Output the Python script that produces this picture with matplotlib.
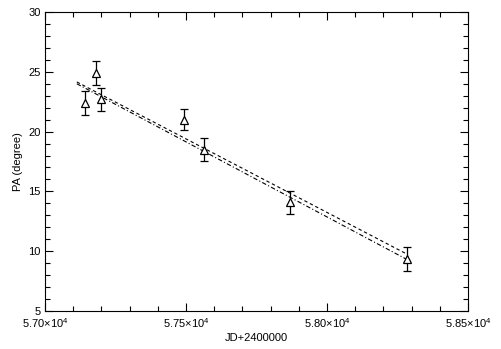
import matplotlib
matplotlib.use('Agg')
import matplotlib.pyplot as plt
from matplotlib.ticker import MultipleLocator, FixedLocator

# Observed position angles
jd = [57142, 57180, 57200, 57494, 57564, 57869, 58285]
pa = [22.4, 24.9, 22.7, 21.0, 18.5, 14.1, 9.35]
pa_err = [1.0, 1.0, 0.95, 0.9, 0.95, 0.95, 1.0]

# Two linear fits (end points)
fit_jd = [57113, 58284]
fit_dashed = [24.15, 9.75]
fit_dashdot = [24.0, 9.3]

xticks = [57000, 57500, 58000, 58500]
xticklabels = [r'5.70$\times$10$^4$', r'5.75$\times$10$^4$',
               r'5.80$\times$10$^4$', r'5.85$\times$10$^4$']

plt.rcParams['font.family'] = 'Liberation Sans'
plt.rcParams['mathtext.fontset'] = 'custom'
plt.rcParams['mathtext.rm'] = 'Liberation Sans'

fig = plt.figure(figsize=(5.02, 3.49), dpi=100)
ax = fig.add_axes([0.0896, 0.1089, 0.8427, 0.8567])

ax.plot(fit_jd, fit_dashed, color='black', linestyle=(0, (3, 2.5)), linewidth=0.8)
ax.plot(fit_jd, fit_dashdot, color='black', linestyle=(0, (4, 2, 1, 2)), linewidth=0.8)
ax.errorbar(jd, pa, yerr=pa_err, fmt='^', markersize=5.5, markerfacecolor='white',
            markeredgecolor='black', markeredgewidth=0.9, ecolor='black',
            elinewidth=0.9, capsize=3, capthick=0.9)

ax.set_xlim(57000, 58500)
ax.set_ylim(5, 30)
ax.xaxis.set_major_locator(FixedLocator(xticks))
ax.set_xticklabels(xticklabels)
ax.xaxis.set_minor_locator(MultipleLocator(100))
ax.yaxis.set_major_locator(MultipleLocator(5))
ax.yaxis.set_minor_locator(MultipleLocator(1))
ax.tick_params(which='both', direction='in', top=True, right=True,
               labelsize=8, width=0.8)
ax.tick_params(axis='x', pad=4)
ax.tick_params(axis='y', pad=3)
ax.tick_params(which='major', length=6)
ax.tick_params(which='minor', length=3.5)
for s in ax.spines.values():
    s.set_linewidth(0.8)

ax.set_xlabel('JD+2400000', fontsize=8, labelpad=2)
ax.set_ylabel('PA (degree)', fontsize=8, labelpad=4)

fig.savefig('out.png', dpi=100)
